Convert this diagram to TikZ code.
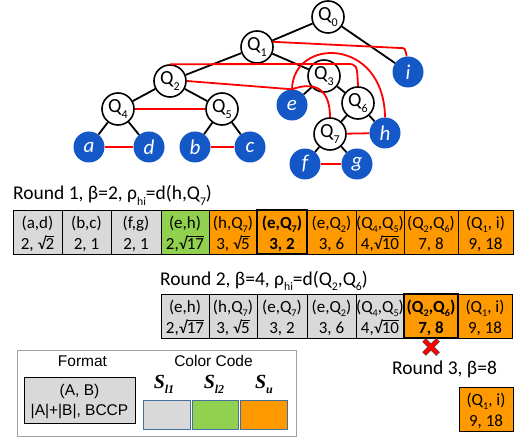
\documentclass[tikz,border=0pt]{standalone}
\usepackage{fontspec}
\usepackage{graphicx}
\setmainfont{Carlito}
\newfontfamily\arialf{Liberation Sans}
\newfontfamily\timesf{Liberation Serif}
\usetikzlibrary{calc}
\definecolor{nodeblue}{RGB}{20,88,200}
\definecolor{cgray}{RGB}{217,217,217}
\definecolor{cgreen}{RGB}{146,208,80}
\definecolor{corange}{RGB}{255,153,0}
\definecolor{edgered}{RGB}{255,0,0}
\definecolor{legborder}{RGB}{65,113,156}
\definecolor{outergray}{RGB}{160,160,160}
\newlength\sqw
\newcommand\sq[1]{\settowidth\sqw{#1}√\kern-0.03em\rlap{\rule[0.70em]{\sqw}{0.06em}}#1}
\newcommand\sbt[1]{\raisebox{-0.28em}{\scalebox{0.6}{#1}}}
\newcommand\tcell[7]{%
  \pgfmathsetmacro\cw{#3-#2}%
  \node[cellbox, fill=#5, minimum width=\cw pt, anchor=north west] (#1) at (#2,#4) {};
  \node[celltxt, anchor=base] (#1a) at ($(#1.north)+(0,18)$) {#6};
  \node[celltxt, anchor=base] (#1b) at ($(#1.north)+(0,39)$) {#7};
}
\begin{document}
\begin{tikzpicture}[x=1pt,y=-1pt,
  qn/.style={circle, draw=black, line width=1.6pt, fill=white, minimum size=32pt, inner sep=0pt, font=\fontsize{20}{22}\selectfont},
  bn/.style={circle, fill=nodeblue, minimum size=31pt, inner sep=0pt, text=white, font=\fontsize{21}{23}\selectfont\itshape},
  tedge/.style={draw=black, line width=1.8pt},
  redge/.style={draw=edgered, line width=1.8pt},
  cellbox/.style={draw=black, line width=0.8pt, minimum height=44pt, inner sep=0pt, outer sep=0pt},
  celltxt/.style={inner sep=0pt, font=\fontsize{17}{19}\selectfont},
  thickbox/.style={draw=black, line width=2.6pt},
  title/.style={inner sep=0pt, anchor=base west, font=\fontsize{19.5}{22}\selectfont},
  legtxt/.style={inner sep=0pt, anchor=base, font=\arialf\fontsize{15.5}{18}\selectfont},
  slab/.style={inner sep=0pt, anchor=base, font=\timesf\bfseries\itshape\fontsize{20}{22}\selectfont},
  colbox/.style={draw=legborder, line width=0.9pt, minimum width=47pt, minimum height=29pt, inner sep=0pt, anchor=north west}
]
\useasboundingbox (0,0) rectangle (521,438);

% ---- tree nodes ----
\node[qn] (Q0) at (328,17) {Q\sbt{0}};
\node[qn] (Q1) at (257,47) {Q\sbt{1}};
\node[qn] (Q2) at (170,81) {Q\sbt{2}};
\node[qn] (Q4) at (118,109) {Q\sbt{4}};
\node[qn] (Q5) at (222,109) {Q\sbt{5}};
\node[qn] (Q3) at (324,76) {Q\sbt{3}};
\node[qn] (Q6) at (358,103) {Q\sbt{6}};
\node[qn] (Q7) at (330,134) {Q\sbt{7}};
\node[bn] (a) at (89,147) {a};
\node[bn] (d) at (149,147) {d};
\node[bn] (b) at (195,147) {b};
\node[bn] (c) at (250,147) {c};
\node[bn] (e) at (292,105) {e};
\node[bn] (h) at (385,133) {h};
\node[bn] (i) at (408,72) {i};
\node[bn] (f) at (305,164) {f};
\node[bn] (g) at (357,164) {g};

% ---- tree edges ----
\draw[tedge] (Q0) -- (Q1);
\draw[tedge] (Q0) -- (i);
\draw[tedge] (Q1) -- (Q2);
\draw[tedge] (Q1) -- (Q3);
\draw[tedge] (Q2) -- (Q4);
\draw[tedge] (Q2) -- (Q5);
\draw[tedge] (Q4) -- (a);
\draw[tedge] (Q4) -- (d);
\draw[tedge] (Q5) -- (b);
\draw[tedge] (Q5) -- (c);
\draw[tedge] (Q3) -- (e);
\draw[tedge] (Q3) -- (Q6);
\draw[tedge] (Q6) -- (Q7);
\draw[tedge] (Q6) -- (h);
\draw[tedge] (Q7) -- (f);
\draw[tedge] (Q7) -- (g);

% ---- red pair edges ----
\draw[redge] (a) -- (d);
\draw[redge] (b) -- (c);
\draw[redge] (f) -- (g);
\draw[redge] (Q7) -- (h);
\draw[redge] (Q4) -- (Q5);
\draw[redge] (Q1.18) -- (400,48) .. controls (405,48) .. (i.95);
\draw[redge] (Q2.north) -- (346,64) .. controls (357,64) .. (Q6.north);
\draw[redge] (Q2.east) -- (e.north);
\draw[redge] (e.north) .. controls (293,37) and (384,37) .. (h.north);
\draw[redge] (e.north) .. controls (318,80) and (330,92) .. (Q7.north);

% ---- Round 1 ----
\node[title] (t1) at (13,200) {Round 1, β=2, ρ\sbt{hi}=d(h,Q\sbt{7})};
\tcell{r1c1}{13}{62}{210}{cgray}{(a,d)}{2, \sq{2}}
\tcell{r1c2}{62}{111}{210}{cgray}{(b,c)}{2, 1}
\tcell{r1c3}{111}{161}{210}{cgray}{(f,g)}{2, 1}
\tcell{r1c4}{161}{209}{210}{cgreen}{(e,h)}{2,\sq{17}}
\tcell{r1c5}{209}{257}{210}{corange}{(h,Q\sbt{7})}{3, \sq{5}}
\tcell{r1c6}{257}{307}{210}{corange}{\bfseries (e,Q\sbt{7})}{\bfseries 3, 2}
\tcell{r1c7}{307}{356}{210}{corange}{(e,Q\sbt{2})}{3, 6}
\tcell{r1c8}{356}{404}{210}{corange}{(Q\sbt{4},Q\sbt{5})}{4,\sq{10}}
\tcell{r1c9}{404}{458}{210}{corange}{(Q\sbt{2},Q\sbt{6})}{7, 8}
\tcell{r1c10}{458}{513}{210}{corange}{(Q\sbt{1}, i)}{9, 18}
\draw[thickbox] (r1c6.north west) rectangle (r1c6.south east);

% ---- Round 2 ----
\node[title] (t2) at (160,285) {Round 2, β=4, ρ\sbt{hi}=d(Q\sbt{2},Q\sbt{6})};
\tcell{r2c1}{161}{209}{294}{cgray}{(e,h)}{2,\sq{17}}
\tcell{r2c2}{209}{257}{294}{cgray}{(h,Q\sbt{7})}{3, \sq{5}}
\tcell{r2c3}{257}{307}{294}{cgray}{(e,Q\sbt{7})}{3, 2}
\tcell{r2c4}{307}{356}{294}{cgray}{(e,Q\sbt{2})}{3, 6}
\tcell{r2c5}{356}{404}{294}{cgray}{(Q\sbt{4},Q\sbt{5})}{4,\sq{10}}
\tcell{r2c6}{404}{458}{294}{corange}{\bfseries (Q\sbt{2},Q\sbt{6})}{\bfseries 7, 8}
\tcell{r2c7}{458}{512}{294}{corange}{(Q\sbt{1}, i)}{9, 18}
\draw[thickbox] (r2c6.north west) rectangle (r2c6.south east);

% red cross
\coordinate (X) at (431,347);
\draw[black!70, line width=5.2pt] ($(X)+(-7,-7)$) -- ($(X)+(7,7)$) ($(X)+(-7,7)$) -- ($(X)+(7,-7)$);
\draw[edgered, line width=3.6pt] ($(X)+(-6.6,-6.6)$) -- ($(X)+(6.6,6.6)$) ($(X)+(-6.6,6.6)$) -- ($(X)+(6.6,-6.6)$);

% ---- Round 3 ----
\node[title] (t3) at (392,374) {Round 3, β=8};
\tcell{r3c1}{459}{513}{387}{corange}{(Q\sbt{1}, i)}{9, 18}

% ---- legend ----
\node[draw=outergray, line width=1.2pt, minimum width=279pt, minimum height=86pt, inner sep=0pt, anchor=north west] (legend) at (17,350) {};
\node[legtxt] (fmt) at (82.5,366.5) {Format};
\node[draw=black, line width=1.4pt, fill=cgray, minimum width=111pt, minimum height=46pt, inner sep=0pt, anchor=north west] (fbox) at (24,377) {};
\node[legtxt] (fbA) at (79.5,395) {(A, B)};
\node[legtxt] (fbB) at (79.5,415) {|A|+|B|, BCCP};
\node[legtxt] (cc) at (213.5,366.5) {Color Code};
\node[slab] (s1) at (164,388) {S\sbt{l1}};
\node[slab] (s2) at (214,388) {S\sbt{l2}};
\node[slab] (s3) at (264,388) {S\sbt{u}};
\node[colbox, fill=cgray] (k1) at (143,400) {};
\node[colbox, fill=cgreen, minimum width=46pt] (k2) at (192,400) {};
\node[colbox, fill=corange] (k3) at (240,400) {};
\end{tikzpicture}
\end{document}
